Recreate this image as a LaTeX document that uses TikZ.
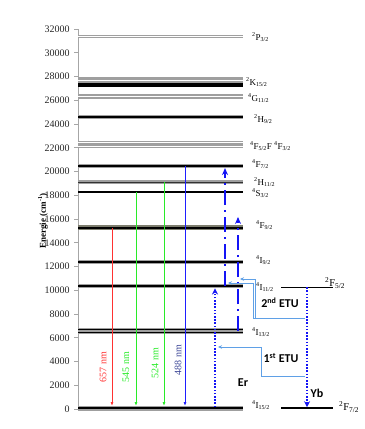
\documentclass[tikz,border=0pt]{standalone}
\usepackage{fontspec}
\setmainfont{Liberation Serif}
\newfontfamily\etufont{Carlito}
\usetikzlibrary{arrows.meta}

\definecolor{emred}{RGB}{255,50,50}
\definecolor{emgreen}{RGB}{40,235,40}
\definecolor{emblue}{RGB}{30,30,255}
\definecolor{navyfour}{RGB}{60,70,150}
\definecolor{pump}{RGB}{20,20,245}
\definecolor{etublue}{RGB}{95,160,230}
\definecolor{olivegray}{RGB}{125,125,110}

\tikzset{
  lvlband/.style={line width=4pt, gray!75},
  lvlcore/.style={line width=1.4pt, black},
  lvlgap/.style={line width=0.7pt, white},
  lvllbl/.style={anchor=west, inner sep=0pt, font=\fontsize{9}{10}\selectfont},
  emis/.style={line width=1pt, -{Latex[length=4pt,width=3pt]}},
  emlbl/.style={rotate=90, inner sep=0pt, font=\fontsize{10}{12}\selectfont},
  pumpdot/.style={pump, line width=1.8pt, dash pattern=on 1.6pt off 1.6pt, -{Stealth[length=6pt,width=6pt]}},
  pumpdd/.style={pump, line width=2.2pt, dash pattern=on 15pt off 5pt on 2pt off 5pt, -{Stealth[length=7pt,width=6pt]}},
  etuline/.style={etublue, line width=1pt, -{Stealth[length=4pt,width=3.5pt]}},
  etutxt/.style={inner sep=0pt, font=\etufont\bfseries\fontsize{12}{14}\selectfont},
}

\begin{document}
\begin{tikzpicture}[x=1pt, y=11.875pt] % y in 1000 cm^-1
   \useasboundingbox (0,-1.684) rectangle (364,34.442);
   % axis
   \draw[gray!70, line width=0.8pt] (78,0) -- (78,32);
   \foreach \e in {0,2,...,32}
      \draw[gray!70, line width=0.8pt] (78,\e) -- (74,\e)
         node[left=4pt, inner sep=0pt, text=black!85, font=\fontsize{10}{12}\selectfont] {\the\numexpr\e*1000\relax};
   \node[rotate=90, inner sep=0pt, font=\bfseries\fontsize{9}{10}\selectfont] (ylab) at (43,15.83) {Energie (cm\textsuperscript{-1})};

   % Er levels
   \draw[lvlband, line width=3pt] (78,31.4) -- (243,31.4);
   \draw[lvlgap] (78,31.4) -- (243,31.4);
   \draw[lvlband, line width=6pt] (78,27.705) -- (243,27.705);
   \draw[lvlgap] (78,27.705) -- (243,27.705);
   \draw[lvlcore, line width=3.5pt] (78,27.268) -- (243,27.268);
   \draw[lvlband, line width=4.5pt] (78,26.335) -- (243,26.335);
   \draw[lvlgap, line width=0.9pt] (78,26.335) -- (243,26.335);
   \draw[lvlband, line width=7pt] (78,22.273) -- (243,22.273);
   \draw[lvlgap] (78,22.416) -- (243,22.416);
   \draw[lvlgap] (78,22.13) -- (243,22.13);
   \foreach \e in {24.59,20.463,12.379,10.358} {
      \draw[lvlband] (78,\e) -- (243,\e);
      \draw[lvlcore] (78,\e) -- (243,\e);
   }
   \draw[lvlband] (78,19.115) -- (243,19.115);
   \draw[lvlcore, line width=0.8pt, black!80] (78,19.115) -- (243,19.115);
   \draw[lvlband, line width=2.5pt, gray!40] (78,18.273) -- (243,18.273);
   \draw[lvlcore, line width=1.2pt] (78,18.273) -- (243,18.273);
   \draw[lvlband, line width=5pt, olivegray] (78,15.242) -- (243,15.242);
   \draw[lvlcore] (78,15.242) -- (243,15.242);
   \draw[lvlband, line width=6pt] (78,6.568) -- (243,6.568);
   \draw[lvlcore, line width=1.3pt] (78,6.72) -- (243,6.72);
   \draw[lvlcore, line width=1.3pt] (78,6.434) -- (243,6.434);
   \draw[lvlband, line width=5pt] (78,0.084) -- (243,0.084);
   \draw[lvlcore, line width=1.5pt] (78,0.084) -- (243,0.084);

   % Yb levels
   \draw[line width=1.5pt] (281,10.25) -- (333,10.25);
   \draw[line width=1.5pt] (281,0.084) -- (333,0.084);

   % level names
   \node[lvllbl] (P32)  at (252,31.326) {\textsuperscript{2}P\textsubscript{3/2}};
   \node[lvllbl] (K152) at (246,27.537) {\textsuperscript{2}K\textsubscript{15/2}};
   \node[lvllbl] (G112) at (248,26.189) {\textsuperscript{4}G\textsubscript{11/2}};
   \node[lvllbl] (H92)  at (254,24.421) {\textsuperscript{2}H\textsubscript{9/2}};
   \node[lvllbl] (F52)  at (250,22.147) {\textsuperscript{4}F\textsubscript{5/2}F \textsuperscript{4}F\textsubscript{3/2}};
   \node[lvllbl] (F72)  at (252,20.631) {\textsuperscript{4}F\textsubscript{7/2}};
   \node[lvllbl] (H112) at (254,19.116) {\textsuperscript{2}H\textsubscript{11/2}};
   \node[lvllbl] (S32)  at (252,18.189) {\textsuperscript{4}S\textsubscript{3/2}};
   \node[lvllbl] (F92)  at (256,15.495) {\textsuperscript{4}F\textsubscript{9/2}};
   \node[lvllbl] (I92)  at (256,12.547) {\textsuperscript{4}I\textsubscript{9/2}};
   \node[lvllbl] (I112) at (256,10.274) {\textsuperscript{4}I\textsubscript{11/2}};
   \node[lvllbl] (I132) at (252,6.484)  {\textsuperscript{4}I\textsubscript{13/2}};
   \node[lvllbl] (I152) at (252,0.337)  {\textsuperscript{4}I\textsubscript{15/2}};
   \node[lvllbl, font=\fontsize{10.5}{12}\selectfont] (Yb52) at (325,10.611) {\textsuperscript{2}F\textsubscript{5/2}};
   \node[lvllbl, font=\fontsize{10.5}{12}\selectfont] (Yb72) at (339,0.168)  {\textsuperscript{2}F\textsubscript{7/2}};

   % emissions
   \foreach \x/\e/\c/\n in {112/15.24/emred/657, 136/18.27/emgreen/545, 164/19.11/emgreen/524, 185/20.46/emblue/488} {
      \coordinate (top\n) at (\x,\e);
      \coordinate (bot\n) at (\x,0.25);
      \draw[emis, draw=\c, fill=\c] (top\n) -- (bot\n);
   }
   \node[emlbl, emred]    (l657) at (103,3.537) {657 nm};
   \node[emlbl, emgreen]  (l545) at (126,3.537) {545 nm};
   \node[emlbl, emgreen]  (l524) at (155,3.874) {524 nm};
   \node[emlbl, navyfour] (l488) at (178,4.126) {488 nm};

   % pumping
   \coordinate (gsa0) at (215,0.15);
   \coordinate (gsa1) at (215,10.15);
   \coordinate (esaA0) at (225,10.358);
   \coordinate (esaA1) at (225,20.29);
   \coordinate (esaB0) at (238,6.568);
   \coordinate (esaB1) at (238,16.17);
   \coordinate (yb0) at (307,10.25);
   \coordinate (yb1) at (307,0.15);
   \draw[pumpdot] (gsa0) -- (gsa1);
   \draw[pumpdd] (esaA0) -- (esaA1);
   \draw[pumpdd] (esaB0) -- (esaB1);
   \draw[pumpdot] (yb0) -- (yb1);

   % energy transfer
   \coordinate (t1) at (305,2.695);
   \coordinate (t2) at (305,7.663);
   \draw[etuline] (t1) -| (261,5.221) -- (218,5.221);
   \draw[etuline] (t2) -| (255,10.947) -- (240,10.947);
   \draw[etuline] (t2) -| (253,10.61) -- (228,10.61);
   \node[etutxt] (etu2) at (280,8.926) {2\textsuperscript{nd} ETU};
   \node[etutxt] (etu1) at (281,4.295) {1\textsuperscript{st} ETU};
   \node[etutxt] (er) at (243,2.19) {Er};
   \node[etutxt] (yb) at (317,1.347) {Yb};
\end{tikzpicture}
\end{document}
